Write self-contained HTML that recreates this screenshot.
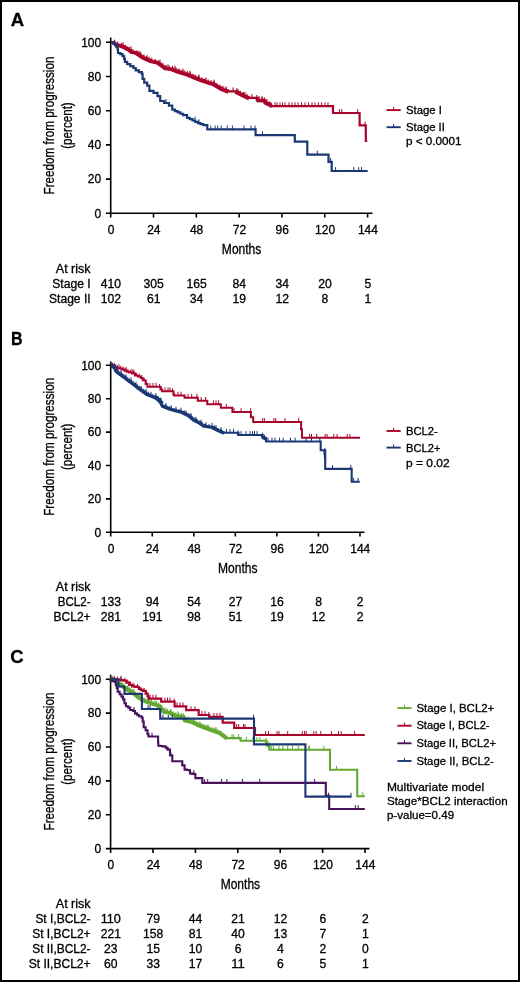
<!DOCTYPE html><html><head><meta charset="utf-8"><style>html,body{margin:0;padding:0;background:#fff;}body{width:520px;height:982px;overflow:hidden;}svg{display:block;will-change:transform;font-family:"Liberation Sans",sans-serif;}text{fill:#000;stroke:#000;stroke-width:0.3px;}</style></head><body>
<svg width="520" height="982" viewBox="0 0 520 982">
<rect x="1" y="1" width="518" height="980" fill="#fff" stroke="#000" stroke-width="2"/>
<text x="10.7" y="25.6" font-size="18.5" text-anchor="start" font-weight="bold" textLength="13.4" lengthAdjust="spacingAndGlyphs">A</text>
<text x="11" y="344.7" font-size="18.5" text-anchor="start" font-weight="bold" textLength="11.6" lengthAdjust="spacingAndGlyphs">B</text>
<text x="10.2" y="663.4" font-size="18.5" text-anchor="start" font-weight="bold">C</text>
<path d="M110.7 37.4V213.3H372.5" fill="none" stroke="#000" stroke-width="1.6" stroke-linejoin="miter"/>
<text x="101.2" y="217.6" font-size="12" text-anchor="end" font-weight="normal">0</text>
<text x="101.2" y="183.4" font-size="12" text-anchor="end" font-weight="normal">20</text>
<text x="101.2" y="149.2" font-size="12" text-anchor="end" font-weight="normal">40</text>
<text x="101.2" y="115" font-size="12" text-anchor="end" font-weight="normal">60</text>
<text x="101.2" y="80.8" font-size="12" text-anchor="end" font-weight="normal">80</text>
<text x="101.2" y="46.6" font-size="12" text-anchor="end" font-weight="normal">100</text>
<text x="111" y="233.5" font-size="12" text-anchor="middle" font-weight="normal">0</text>
<text x="153.82" y="233.5" font-size="12" text-anchor="middle" font-weight="normal">24</text>
<text x="196.63" y="233.5" font-size="12" text-anchor="middle" font-weight="normal">48</text>
<text x="239.45" y="233.5" font-size="12" text-anchor="middle" font-weight="normal">72</text>
<text x="282.26" y="233.5" font-size="12" text-anchor="middle" font-weight="normal">96</text>
<text x="325.08" y="233.5" font-size="12" text-anchor="middle" font-weight="normal">120</text>
<text x="367.9" y="233.5" font-size="12" text-anchor="middle" font-weight="normal">144</text>
<path d="M105.9 213.3H110.7M105.9 179.1H110.7M105.9 144.9H110.7M105.9 110.7H110.7M105.9 76.5H110.7M105.9 42.3H110.7M110.7 213.3V217.6M153.52 213.3V217.6M196.33 213.3V217.6M239.15 213.3V217.6M281.96 213.3V217.6M324.78 213.3V217.6M367.6 213.3V217.6" fill="none" stroke="#000" stroke-width="1.6"/>
<text x="241.6" y="253.5" font-size="14.5" text-anchor="middle" font-weight="normal" textLength="39.5" lengthAdjust="spacingAndGlyphs">Months</text>
<g transform="translate(54 125.5) rotate(-90)">
<text x="0" y="0" font-size="15" text-anchor="middle" textLength="138" lengthAdjust="spacingAndGlyphs">Freedom from progression</text>
<text x="0" y="18" font-size="15" text-anchor="middle" textLength="46.5" lengthAdjust="spacingAndGlyphs">(percent)</text>
</g>
<path d="M110.7 42.3H114.2V43.6H115.7V44.4H117.6V44.8H119.5V45.2H121.45V45.95H123.4V46.7H125.3V47.65H127.2V48.6H129.15V50.1H131.1V51.6H133V51.8H134.9V52H136.85V53.35H138.8V54.7H140.7V56H142.6V57.3H144.4V58.1H146.2V58.9H148V59.7H150V60.6H152.3V61.13H154.6V61.67H156.9V62.2H158.65V63.4H160.4V64.6H162.55V66.25H164.7V67.9H166.73V68.17H168.77V68.43H170.8V68.7H173.1V69.57H175.4V70.43H177.7V71.3H179.85V71.95H182V72.6H184.15V73.25H186.3V73.9H188.42V74.8H190.54V75.7H192.66V76.6H194.78V77.5H196.9V78.4H199.2V79.27H201.5V80.13H203.8V81H205.98V81.65H208.15V82.3H210.32V82.95H212.5V83.6H214.68V84.88H216.85V86.15H219.02V87.42H221.2V88.7H223.5V89.57H225.8V90.43H228.1V91.3H235H237.3V92.47H239.6V93.63H241.9V94.8H244.17V95.83H246.43V96.87H248.7V97.9H256.2H257.3V99.8H259.43V99.87H261.57V99.93H263.7V100H264.8V102.3H266.73V103.2H268.67V104.1H270.6V105H271.2V106.2H333V113H359.6V125.4H365.8V140.8H367.2" fill="none" stroke="#a8042c" stroke-width="2.2" stroke-linejoin="miter" stroke-linecap="butt"/>
<path d="M114.2 44.9L115.7 45.7L119.5 46.5L123.4 48L127.2 49.9L131.1 52.9L134.9 53.3L138.8 56L142.6 58.6L148 61L150 61.9L156.9 63.5L160.4 65.9L164.7 69.2L170.8 70L177.7 72.6L186.3 75.2L196.9 79.7L203.8 82.3L212.5 84.9L221.2 90L228.1 92.6M235 92.6L241.9 96.1L248.7 99.2M256.2 99.2L257.3 101.1L263.7 101.3L264.8 103.6L270.6 106.3L271.2 107.5" fill="none" stroke="#a8042c" stroke-width="2.2" stroke-linejoin="round"/>
<path d="M114.5 43.6V39.7M123 45.95V42.05M131 50.1V46.2M139 54.7V50.8M147 58.9V55M160 63.4V59.5M168 68.17V64.27M175 69.57V65.67M183 72.6V68.7M190 74.8V70.9M199 78.4V74.5M206 81.65V77.75M214 83.6V79.7M226 90.43V86.53M233 91.3V87.4M238 92.47V88.57M245 95.83V91.93M252 97.9V94M259 99.8V95.9M262 99.93V96.03M267 103.2V99.3M275 106.2V102.3M277 106.2V102.3M280 106.2V102.3M282.5 106.2V102.3M285 106.2V102.3M289 106.2V102.3M292 106.2V102.3M295 106.2V102.3M298 106.2V102.3M301.5 106.2V102.3M305 106.2V102.3M308.5 106.2V102.3M312 106.2V102.3M315 106.2V102.3M318.5 106.2V102.3M321.5 106.2V102.3M325 106.2V102.3M328 106.2V102.3M339.4 113V109.1M341.8 113V109.1M357.7 113V109.1M365 125.4V121.5M114.95 43.6V40.7M117.6 44.4V41.5M121.45 45.95V43.05M125.3 47.65V44.75M129.15 50.1V47.2M133 51.8V48.9M136.85 53.35V50.45M140.7 54.7V51.8M143.95 57.3V54.4M146.65 58.9V56M149 59.7V56.8M151.72 60.6V57.7M155.18 61.67V58.77M158.65 63.4V60.5M162.55 66.25V63.35M166.22 67.9V65M169.28 68.43V65.53M172.53 68.7V65.8M175.97 70.43V67.53M179.13 71.3V68.4M182 72.6V69.7M184.87 73.25V70.35M187.62 73.9V71M190.28 74.8V71.9M192.93 76.6V73.7M195.58 77.5V74.6M198.62 78.4V75.5M202.08 80.13V77.23M205.25 81V78.1M208.15 82.3V79.4M211.05 82.95V80.05M213.95 83.6V80.7M216.85 86.15V83.25M219.75 87.42V84.53M222.92 88.7V85.8M226.38 90.43V87.53M236.72 91.3V88.4M240.18 93.63V90.73M243.6 94.8V91.9M247 96.87V93.97M256.75 97.9V95M258.9 99.8V96.9M262.1 99.93V97.03M264.25 100V97.1M266.25 102.3V99.4M269.15 104.1V101.2M270.9 105V102.1" fill="none" stroke="#a8042c" stroke-width="1"/>
<path d="M110.7 42.3H111.1H113.4V43.8H115.7V44.9H116.5V47.2H117.6V49.5H118V53H120.3V54.2H122.6V56.1H124.2V59.2H124.9V61.8H127.2V64.2H130.3V66.1H133.4V68H135.7V70.3H138.8V72.2H141.8V73.8H142.6V78.8H144.2V82.6H147.2V85.7H149.4V90.9H153.5V92.9H157.5V96.2H160.2V101H164.2V103H168.9V105.7H172.3V109.7H175V111.05H177.7V112.4H180.4V113.75H183.1V115.1H187.1V117.8H189.8V119.15H192.5V120.5H195.2V121.85H197.9V123.2H200.6V124.2H203.3V125.2H207.3V129.4H255.6V135.2H294.8V141.7H307.3V154.6H328.5V161.9H331.7V171H367.6" fill="none" stroke="#1b3874" stroke-width="2.2" stroke-linejoin="miter" stroke-linecap="butt"/>
<path d="M166 103V99.1M195 120.5V116.6M199 123.2V119.3M210.8 129.4V125.5M215.1 129.4V125.5M217.7 129.4V125.5M221.2 129.4V125.5M227.2 129.4V125.5M232.4 129.4V125.5M244 129.4V125.5M251 129.4V125.5M255 129.4V125.5M262.5 135.2V131.3M317.3 154.6V150.7M330.6 161.9V158M335.6 171V167.1M353.8 171V167.1M358.7 171V167.1M361.5 171V167.1" fill="none" stroke="#1b3874" stroke-width="1"/>
<path d="M386.5 110.1H400.7" fill="none" stroke="#a8042c" stroke-width="1.9"/>
<path d="M393.6 110.1V106.9" fill="none" stroke="#a8042c" stroke-width="1"/>
<path d="M386.5 127.2H400.7" fill="none" stroke="#1b3874" stroke-width="1.9"/>
<path d="M393.6 127.2V124" fill="none" stroke="#1b3874" stroke-width="1"/>
<text x="406" y="113.8" font-size="11.3" text-anchor="start" font-weight="normal" textLength="35.8" lengthAdjust="spacingAndGlyphs">Stage I</text>
<text x="406" y="130.9" font-size="11.3" text-anchor="start" font-weight="normal" textLength="38.8" lengthAdjust="spacingAndGlyphs">Stage II</text>
<text x="406" y="145.4" font-size="11.3" text-anchor="start" font-weight="normal" textLength="55.6" lengthAdjust="spacingAndGlyphs">p &lt; 0.0001</text>
<text x="90.6" y="272.7" font-size="12" text-anchor="end" font-weight="normal" textLength="34.8" lengthAdjust="spacingAndGlyphs">At risk</text>
<text x="90.6" y="287.65" font-size="12" text-anchor="end" font-weight="normal" textLength="38.3" lengthAdjust="spacingAndGlyphs">Stage I</text>
<text x="110.9" y="287.65" font-size="12" text-anchor="middle" font-weight="normal" textLength="20.25" lengthAdjust="spacingAndGlyphs">410</text>
<text x="153.72" y="287.65" font-size="12" text-anchor="middle" font-weight="normal" textLength="20.25" lengthAdjust="spacingAndGlyphs">305</text>
<text x="196.53" y="287.65" font-size="12" text-anchor="middle" font-weight="normal" textLength="20.25" lengthAdjust="spacingAndGlyphs">165</text>
<text x="239.35" y="287.65" font-size="12" text-anchor="middle" font-weight="normal" textLength="13.5" lengthAdjust="spacingAndGlyphs">84</text>
<text x="282.16" y="287.65" font-size="12" text-anchor="middle" font-weight="normal" textLength="13.5" lengthAdjust="spacingAndGlyphs">34</text>
<text x="324.98" y="287.65" font-size="12" text-anchor="middle" font-weight="normal" textLength="13.5" lengthAdjust="spacingAndGlyphs">20</text>
<text x="367.8" y="287.65" font-size="12" text-anchor="middle" font-weight="normal" textLength="6.75" lengthAdjust="spacingAndGlyphs">5</text>
<text x="90.6" y="302.6" font-size="12" text-anchor="end" font-weight="normal" textLength="41.5" lengthAdjust="spacingAndGlyphs">Stage II</text>
<text x="110.9" y="302.6" font-size="12" text-anchor="middle" font-weight="normal" textLength="20.25" lengthAdjust="spacingAndGlyphs">102</text>
<text x="153.72" y="302.6" font-size="12" text-anchor="middle" font-weight="normal" textLength="13.5" lengthAdjust="spacingAndGlyphs">61</text>
<text x="196.53" y="302.6" font-size="12" text-anchor="middle" font-weight="normal" textLength="13.5" lengthAdjust="spacingAndGlyphs">34</text>
<text x="239.35" y="302.6" font-size="12" text-anchor="middle" font-weight="normal" textLength="13.5" lengthAdjust="spacingAndGlyphs">19</text>
<text x="282.16" y="302.6" font-size="12" text-anchor="middle" font-weight="normal" textLength="13.5" lengthAdjust="spacingAndGlyphs">12</text>
<text x="324.98" y="302.6" font-size="12" text-anchor="middle" font-weight="normal" textLength="6.75" lengthAdjust="spacingAndGlyphs">8</text>
<text x="367.8" y="302.6" font-size="12" text-anchor="middle" font-weight="normal" textLength="6.75" lengthAdjust="spacingAndGlyphs">1</text>
<path d="M110.7 361.5V532.3H364.5" fill="none" stroke="#000" stroke-width="1.6" stroke-linejoin="miter"/>
<text x="101.2" y="536.6" font-size="12" text-anchor="end" font-weight="normal">0</text>
<text x="101.2" y="503.2" font-size="12" text-anchor="end" font-weight="normal">20</text>
<text x="101.2" y="469.8" font-size="12" text-anchor="end" font-weight="normal">40</text>
<text x="101.2" y="436.4" font-size="12" text-anchor="end" font-weight="normal">60</text>
<text x="101.2" y="403" font-size="12" text-anchor="end" font-weight="normal">80</text>
<text x="101.2" y="369.6" font-size="12" text-anchor="end" font-weight="normal">100</text>
<text x="111" y="552.5" font-size="12" text-anchor="middle" font-weight="normal">0</text>
<text x="152.54" y="552.5" font-size="12" text-anchor="middle" font-weight="normal">24</text>
<text x="194.09" y="552.5" font-size="12" text-anchor="middle" font-weight="normal">48</text>
<text x="235.63" y="552.5" font-size="12" text-anchor="middle" font-weight="normal">72</text>
<text x="277.18" y="552.5" font-size="12" text-anchor="middle" font-weight="normal">96</text>
<text x="318.72" y="552.5" font-size="12" text-anchor="middle" font-weight="normal">120</text>
<text x="360.26" y="552.5" font-size="12" text-anchor="middle" font-weight="normal">144</text>
<path d="M105.9 532.3H110.7M105.9 498.9H110.7M105.9 465.5H110.7M105.9 432.1H110.7M105.9 398.7H110.7M105.9 365.3H110.7M110.7 532.3V536.6M152.24 532.3V536.6M193.79 532.3V536.6M235.33 532.3V536.6M276.88 532.3V536.6M318.42 532.3V536.6M359.96 532.3V536.6" fill="none" stroke="#000" stroke-width="1.6"/>
<text x="237.8" y="572.5" font-size="14.5" text-anchor="middle" font-weight="normal" textLength="39.5" lengthAdjust="spacingAndGlyphs">Months</text>
<g transform="translate(54 446.8) rotate(-90)">
<text x="0" y="0" font-size="15" text-anchor="middle" textLength="138" lengthAdjust="spacingAndGlyphs">Freedom from progression</text>
<text x="0" y="18" font-size="15" text-anchor="middle" textLength="46.5" lengthAdjust="spacingAndGlyphs">(percent)</text>
</g>
<path d="M110.7 365.3H113.05V365.55H115.4V365.8V367.8H117.5V368.15H119.6V368.5H122V369.6H124.4V370.7H126.8V371.65H129.2V372.6H132.1V373.5H135V375.5H137.9V376.4H140.8V377.9H142.7V380.3H145.6V384.1H147.4V386.8H158.7H160.4V389.4H162.1V391.2H171.6H173.4V394.6H174.2V395.5H184.6V397.7H197.8V400.8H207.3V404.2H220.8V407.7H232.4V412H250.9V417.2H253.2V421.9H301.1V429.2H302V437.8H360" fill="none" stroke="#a8042c" stroke-width="2.0" stroke-linejoin="miter" stroke-linecap="butt"/>
<path d="M119 368.15V364.35M126 370.7V366.9M132 372.6V368.8M134 373.5V369.7M150 386.8V383M153 386.8V383M156 386.8V383M165 391.2V387.4M168 391.2V387.4M170 391.2V387.4M178 395.5V391.7M181 395.5V391.7M188 397.7V393.9M191.7 397.7V393.9M196.9 397.7V393.9M201.2 400.8V397M205.6 400.8V397M213.4 404.2V400.4M216 404.2V400.4M218.6 404.2V400.4M226.3 407.7V403.9M234.1 412V408.2M241.1 412V408.2M250.6 412V408.2M262.7 421.9V418.1M264.4 421.9V418.1M273.9 421.9V418.1M275.7 421.9V418.1M285 421.9V418.1M298.7 421.9V418.1M309.7 437.8V434M311.5 437.8V434M316.7 437.8V434M325.2 437.8V434M327.1 437.8V434M333.8 437.8V434M337.1 437.8V434M347.2 437.8V434M349.9 437.8V434M111.88 365.3V362.5M114.23 365.55V362.75M117.5 368.15V365.35M120.8 368.5V365.7M123.2 369.6V366.8M125.6 370.7V367.9M128 371.65V368.85M130.65 372.6V369.8M133.55 373.5V370.7M136.45 375.5V372.7M139.35 376.4V373.6M141.75 377.9V375.1M144.15 380.3V377.5M146.5 384.1V381.3M159.55 386.8V384M161.25 389.4V386.6M172.5 391.2V388.4M173.8 394.6V391.8" fill="none" stroke="#a8042c" stroke-width="1"/>
<path d="M110.7 365.3H111H113.8V367.2H115.8V371.1H117.7V372.5H119.6V373.9H121.55V375.35H123.5V376.8H125.4V378.25H127.3V379.7H129.25V381.15H131.2V382.6H133.1V384.05H135V385.5H136.9V386.95H138.8V388.4H140.75V389.8H142.7V391.2H144.6V392.65H146.5V394.1H148.45V394.85H150.4V395.6H152.3V396.3H154.2V397H157.1V398.9H160V401.8H162.1V405.9H164.4V406.77H166.7V407.63H169V408.5H170.73V409.07H172.47V409.63H174.2V410.2H175.95V410.62H177.7V411.05H179.45V411.47H181.2V411.9H183.5V413.07H185.8V414.23H188.1V415.4H189.9V416.87H191.7V418.33H193.5V419.8H195.23V420.67H196.97V421.53H198.7V422.4H200.4V423.57H202.1V424.73H203.8V425.9H205.55V426.1H207.3V426.3H209.05V426.5H210.8V426.7H213.1V427.87H215.4V429.03H217.7V430.2H219.7V431.07H221.7V431.93H223.7V432.8H237.6H238.5V435H261.8H262.7V437.1H264.4V437.95H266.1V438.8V441.5H320.7V450.2H324.3H325.2V458.5V468.9H351.7V481.7H359.8" fill="none" stroke="#1b3874" stroke-width="2.1" stroke-linejoin="miter" stroke-linecap="butt"/>
<path d="M111 366.2L113.8 368.1L115.8 372L119.6 374.8L123.5 377.7L127.3 380.6L131.2 383.5L135 386.4L138.8 389.3L142.7 392.1L146.5 395L150.4 396.5L154.2 397.9L157.1 399.8L160 402.7L162.1 406.8L169 409.4L174.2 411.1L181.2 412.8L188.1 416.3L193.5 420.7L198.7 423.3L203.8 426.8L210.8 427.6L217.7 431.1L223.7 433.7M237.6 433.7L238.5 435.9M261.8 435.9L262.7 438L266.1 439.7M324.3 451.1L325.2 459.4" fill="none" stroke="#1b3874" stroke-width="2.1" stroke-linejoin="round"/>
<path d="M116 371.1V367.25M121 373.9V370.05M126 378.25V374.4M131 381.15V377.3M136 385.5V381.65M141 389.8V385.95M146 392.65V388.8M151 395.6V391.75M156 397V393.15M161 401.8V397.95M166 406.77V402.92M171 409.07V405.22M176 410.62V406.77M181 411.47V407.62M186 414.23V410.38M191 416.87V413.02M196 420.67V416.82M201 423.57V419.72M206 426.1V422.25M212 426.7V422.85M216 429.03V425.18M221 431.07V427.22M226.5 432.8V428.95M230 432.8V428.95M233.5 432.8V428.95M241 435V431.15M246 435V431.15M250 435V431.15M252.5 435V431.15M254.5 435V431.15M257 435V431.15M268 441.5V437.65M272 441.5V437.65M275 441.5V437.65M279.6 441.5V437.65M283.2 441.5V437.65M290.5 441.5V437.65M295.1 441.5V437.65M306.1 441.5V437.65M311.5 441.5V437.65M319.8 441.5V437.65M332.5 468.9V465.05M350.8 468.9V465.05M353.6 481.7V477.85M358.1 481.7V477.85M112.4 365.3V362.95M114.8 367.2V364.85M117.7 371.1V368.75M121.55 375.35V373M125.4 378.25V375.9M129.25 381.15V378.8M133.1 384.05V381.7M136.9 386.95V384.6M140.75 389.8V387.45M144.6 392.65V390.3M148.45 394.1V391.75M152.3 396.3V393.95M155.65 397V394.65M158.55 398.9V396.55M161.05 401.8V399.45M165.55 406.77V404.42M171.6 409.07V406.72M175.95 410.62V408.27M179.45 411.47V409.12M184.65 413.07V410.72M190.8 416.87V414.52M196.1 420.67V418.32M201.25 423.57V421.22M205.55 426.1V423.75M209.05 426.5V424.15M214.25 427.87V425.52M220.7 431.07V428.72M238.05 432.8V430.45M262.25 435V432.65M264.4 437.1V434.75M324.75 450.2V447.85" fill="none" stroke="#1b3874" stroke-width="1"/>
<path d="M386.5 431H400.7" fill="none" stroke="#a8042c" stroke-width="1.9"/>
<path d="M393.6 431V427.8" fill="none" stroke="#a8042c" stroke-width="1"/>
<path d="M386.5 447.6H400.7" fill="none" stroke="#1b3874" stroke-width="1.9"/>
<path d="M393.6 447.6V444.4" fill="none" stroke="#1b3874" stroke-width="1"/>
<text x="406" y="434.8" font-size="11.3" text-anchor="start" font-weight="normal" textLength="31.8" lengthAdjust="spacingAndGlyphs">BCL2-</text>
<text x="406" y="451.7" font-size="11.3" text-anchor="start" font-weight="normal" textLength="34.4" lengthAdjust="spacingAndGlyphs">BCL2+</text>
<text x="406" y="467" font-size="11.3" text-anchor="start" font-weight="normal" textLength="43.7" lengthAdjust="spacingAndGlyphs">p = 0.02</text>
<text x="90.6" y="591.4" font-size="12" text-anchor="end" font-weight="normal" textLength="34.8" lengthAdjust="spacingAndGlyphs">At risk</text>
<text x="90.6" y="606.35" font-size="12" text-anchor="end" font-weight="normal" textLength="32.9" lengthAdjust="spacingAndGlyphs">BCL2-</text>
<text x="110.9" y="606.35" font-size="12" text-anchor="middle" font-weight="normal" textLength="20.25" lengthAdjust="spacingAndGlyphs">133</text>
<text x="152.44" y="606.35" font-size="12" text-anchor="middle" font-weight="normal" textLength="13.5" lengthAdjust="spacingAndGlyphs">94</text>
<text x="193.99" y="606.35" font-size="12" text-anchor="middle" font-weight="normal" textLength="13.5" lengthAdjust="spacingAndGlyphs">54</text>
<text x="235.53" y="606.35" font-size="12" text-anchor="middle" font-weight="normal" textLength="13.5" lengthAdjust="spacingAndGlyphs">27</text>
<text x="277.08" y="606.35" font-size="12" text-anchor="middle" font-weight="normal" textLength="13.5" lengthAdjust="spacingAndGlyphs">16</text>
<text x="318.62" y="606.35" font-size="12" text-anchor="middle" font-weight="normal" textLength="6.75" lengthAdjust="spacingAndGlyphs">8</text>
<text x="360.16" y="606.35" font-size="12" text-anchor="middle" font-weight="normal" textLength="6.75" lengthAdjust="spacingAndGlyphs">2</text>
<text x="90.6" y="621.3" font-size="12" text-anchor="end" font-weight="normal" textLength="37.1" lengthAdjust="spacingAndGlyphs">BCL2+</text>
<text x="110.9" y="621.3" font-size="12" text-anchor="middle" font-weight="normal" textLength="20.25" lengthAdjust="spacingAndGlyphs">281</text>
<text x="152.44" y="621.3" font-size="12" text-anchor="middle" font-weight="normal" textLength="20.25" lengthAdjust="spacingAndGlyphs">191</text>
<text x="193.99" y="621.3" font-size="12" text-anchor="middle" font-weight="normal" textLength="13.5" lengthAdjust="spacingAndGlyphs">98</text>
<text x="235.53" y="621.3" font-size="12" text-anchor="middle" font-weight="normal" textLength="13.5" lengthAdjust="spacingAndGlyphs">51</text>
<text x="277.08" y="621.3" font-size="12" text-anchor="middle" font-weight="normal" textLength="13.5" lengthAdjust="spacingAndGlyphs">19</text>
<text x="318.62" y="621.3" font-size="12" text-anchor="middle" font-weight="normal" textLength="13.5" lengthAdjust="spacingAndGlyphs">12</text>
<text x="360.16" y="621.3" font-size="12" text-anchor="middle" font-weight="normal" textLength="6.75" lengthAdjust="spacingAndGlyphs">2</text>
<path d="M110.6 674.7V848.6H369.5" fill="none" stroke="#000" stroke-width="1.6" stroke-linejoin="miter"/>
<text x="101.2" y="852.9" font-size="12" text-anchor="end" font-weight="normal">0</text>
<text x="101.2" y="819.04" font-size="12" text-anchor="end" font-weight="normal">20</text>
<text x="101.2" y="785.18" font-size="12" text-anchor="end" font-weight="normal">40</text>
<text x="101.2" y="751.32" font-size="12" text-anchor="end" font-weight="normal">60</text>
<text x="101.2" y="717.46" font-size="12" text-anchor="end" font-weight="normal">80</text>
<text x="101.2" y="683.6" font-size="12" text-anchor="end" font-weight="normal">100</text>
<text x="110.9" y="868.8" font-size="12" text-anchor="middle" font-weight="normal">0</text>
<text x="153.31" y="868.8" font-size="12" text-anchor="middle" font-weight="normal">24</text>
<text x="195.72" y="868.8" font-size="12" text-anchor="middle" font-weight="normal">48</text>
<text x="238.12" y="868.8" font-size="12" text-anchor="middle" font-weight="normal">72</text>
<text x="280.53" y="868.8" font-size="12" text-anchor="middle" font-weight="normal">96</text>
<text x="322.94" y="868.8" font-size="12" text-anchor="middle" font-weight="normal">120</text>
<text x="365.35" y="868.8" font-size="12" text-anchor="middle" font-weight="normal">144</text>
<path d="M105.8 848.6H110.6M105.8 814.74H110.6M105.8 780.88H110.6M105.8 747.02H110.6M105.8 713.16H110.6M105.8 679.3H110.6M110.6 848.6V852.9M153.01 848.6V852.9M195.42 848.6V852.9M237.82 848.6V852.9M280.23 848.6V852.9M322.64 848.6V852.9M365.05 848.6V852.9" fill="none" stroke="#000" stroke-width="1.6"/>
<text x="240.4" y="888.8" font-size="14.5" text-anchor="middle" font-weight="normal" textLength="39.5" lengthAdjust="spacingAndGlyphs">Months</text>
<g transform="translate(54 761.5) rotate(-90)">
<text x="0" y="0" font-size="15" text-anchor="middle" textLength="138" lengthAdjust="spacingAndGlyphs">Freedom from progression</text>
<text x="0" y="18" font-size="15" text-anchor="middle" textLength="46.5" lengthAdjust="spacingAndGlyphs">(percent)</text>
</g>
<g transform="translate(0 0.4)">
<path d="M110.6 678.3H111.9V677.9H113.85V679.45H115.8V681H117.7V682.35H119.6V683.7H122.5V685.6H124.4V687.05H126.3V688.5H128.75V689.7H131.2V690.9H133.1V692.35H135V693.8H136.9V695.45H138.8V697.1H140.75V698.3H142.7V699.5H144.6V700.25H146.5V701H148.45V701.7H150.4V702.4H152.8V703.1H155.2V703.8H157.6V704.8H160V705.8H161.55V708.3H163.1V710.8H165V711.1H166.9V711.4H168.8V711.7H170.73V712.67H172.67V713.63H174.6V714.6H176.53V714.85H178.45V715.1H180.38V715.35H182.3V715.6H184.2V719.4H186.12V719.88H188.05V720.35H189.97V720.82H191.9V721.3H193.83V722.27H195.77V723.23H197.7V724.2H199.62V724.93H201.55V725.65H203.47V726.38H205.4V727.1H207.32V727.83H209.25V728.55H211.18V729.27H213.1V730H215V730.63H216.9V731.27H218.8V731.9H220.75V733.35H222.7V734.8H224.6V736.25H226.5V737.7H230H240.6V740.4H265.6H266.5V743.3H269.4V745.2V749.3H330V769.3H357.2V795.8H364.8" fill="none" stroke="#62a832" stroke-width="2.1" stroke-linejoin="miter" stroke-linecap="butt"/>
<path d="M110.6 679.7L111.9 679.3L115.8 682.4L119.6 685.1L122.5 687L126.3 689.9L131.2 692.3L135 695.2L138.8 698.5L142.7 700.9L146.5 702.4L150.4 703.8L155.2 705.2L160 707.2L163.1 712.2L168.8 713.1L174.6 716L182.3 717L184.2 720.8L191.9 722.7L197.7 725.6L205.4 728.5L213.1 731.4L218.8 733.3L222.7 736.2L226.5 739.1M265.6 741.8L266.5 744.7L269.4 746.6" fill="none" stroke="#62a832" stroke-width="2.1" stroke-linejoin="round"/>
<path d="M128 688.5V684.65M134 692.35V688.5M140 697.1V693.25M150 701.7V697.85M156 703.8V699.95M166 711.1V707.25M171 712.67V708.82M178 714.85V711M188 719.88V716.03M194 722.27V718.42M200 724.93V721.08M208 727.83V723.98M216 730.63V726.78M232 737.7V733.85M233.8 737.7V733.85M238.7 737.7V733.85M246.3 740.4V736.55M253 740.4V736.55M256.9 740.4V736.55M259.8 740.4V736.55M271.3 749.3V745.45M273.3 749.3V745.45M279 749.3V745.45M282.9 749.3V745.45M287.7 749.3V745.45M292.5 749.3V745.45M298.3 749.3V745.45M308.8 749.3V745.45M309.5 749.3V745.45M323.8 749.3V745.45M336.5 769.3V765.45M362.8 795.8V791.95M111.25 678.3V675.45M113.85 677.9V675.05M117.7 681V678.15M121.05 683.7V680.85M124.4 687.05V684.2M127.52 688.5V685.65M129.97 689.7V686.85M133.1 692.35V689.5M136.9 695.45V692.6M140.75 698.3V695.45M144.6 700.25V697.4M148.45 701V698.15M151.6 702.4V699.55M154 703.1V700.25M156.4 703.8V700.95M158.8 704.8V701.95M161.55 708.3V705.45M164.53 710.8V707.95M167.38 711.4V708.55M170.25 711.7V708.85M173.15 713.63V710.78M175.88 714.6V711.75M178.45 714.85V712M181.02 715.35V712.5M183.25 715.6V712.75M185.48 719.4V716.55M188.05 720.35V717.5M190.62 720.82V717.98M193.35 721.3V718.45M196.25 723.23V720.38M198.98 724.2V721.35M201.55 725.65V722.8M204.12 726.38V723.53M206.68 727.1V724.25M209.25 728.55V725.7M211.82 729.27V726.43M214.53 730V727.15M217.38 731.27V728.42M220.75 733.35V730.5M224.6 736.25V733.4M266.05 740.4V737.55M267.95 743.3V740.45" fill="none" stroke="#62a832" stroke-width="1"/>
<path d="M110.6 678.8H113.3V678.97H116V679.13H118.7V679.3H121.1V679.8H123.5V680.3H126.3V682.2H129.2V684.6H132.1V686.1H134.05V686.3H136V686.5H138.8V688.5H140.75V689.45H142.7V690.4H145.6V693.3H147.5V695.7H148.5V698.2H161.2V701.2H173.7H174.6V706H186.2V709.8H198.7V714.6H208.3H209.2V716.5H222.7V722.3H234.2V727.6H255V734.6H364.8" fill="none" stroke="#a8042c" stroke-width="2.2" stroke-linejoin="miter" stroke-linecap="butt"/>
<path d="M121 679.3V675.4M130 684.6V680.7M133 686.1V682.2M150 698.2V694.3M153 698.2V694.3M156 698.2V694.3M165 701.2V697.3M167.5 701.2V697.3M170 701.2V697.3M177 706V702.1M180 706V702.1M183 706V702.1M191 709.8V705.9M195 709.8V705.9M202 714.6V710.7M205 714.6V710.7M214 716.5V712.6M217 716.5V712.6M220 716.5V712.6M236.7 727.6V723.7M238.7 727.6V723.7M243.5 727.6V723.7M245 727.6V723.7M265.6 734.6V730.7M268.5 734.6V730.7M277.1 734.6V730.7M279 734.6V730.7M287.7 734.6V730.7M302.3 734.6V730.7M304.6 734.6V730.7M306.2 734.6V730.7M313.8 734.6V730.7M316.2 734.6V730.7M320.8 734.6V730.7M331.5 734.6V730.7M338.5 734.6V730.7M341.2 734.6V730.7M354.6 734.6V730.7M111.95 678.8V675.9M114.65 678.97V676.07M117.35 679.13V676.23M121.1 679.3V676.4M124.9 680.3V677.4M127.75 682.2V679.3M130.65 684.6V681.7M134.05 686.3V683.4M137.4 686.5V683.6M140.75 689.45V686.55M144.15 690.4V687.5M146.55 693.3V690.4M148 695.7V692.8M174.15 701.2V698.3M208.75 714.6V711.7" fill="none" stroke="#a8042c" stroke-width="1"/>
<path d="M110.6 679.3V680.3H112.7V680.8H114.8V681.3H115.8V684.6H116.7V687.5H117.7V691.3H119.6V693.8H121.5V696.2H123V699H124.4V702.9H125.9V705.8H128.3V707.2H130.2V709.6H133.1V710.6H135V713H136.9V714.4H138.8V715.9H141.7V717.3H142.7V721.2H143.7V726.9H145.6V729.8H147.5V733.7H148.5V736.1H157.1H158.1V742.3H158.3V745.4H160.4V745.67H162.5V745.93H164.6V746.2H166.15V747.7H167.7V749.2H170V755H172.3V760.8H180H182.3V765H184.6V769.2H186.9V769.6H189.2V770H190V773.1H192.3V773.45H194.6V773.8H195.4V777.7H202.3V782.5H325.8V795.4H329.2V808.6H364.8" fill="none" stroke="#48125c" stroke-width="2.1" stroke-linejoin="miter" stroke-linecap="butt"/>
<path d="M134 710.6V706.75M152 736.1V732.25M170.8 755V751.15M182.3 765V761.15M193.8 773.45V769.6M204.6 782.5V778.65M207.7 782.5V778.65M221.5 782.5V778.65M226.9 782.5V778.65M242.5 782.5V778.65M259.8 782.5V778.65M314.6 782.5V778.65M355.4 808.6V804.75M358.2 808.6V804.75" fill="none" stroke="#48125c" stroke-width="1"/>
<path d="M110.6 678.9H118.5V686.1H124.5V693.5H141.9V708.6H160.2V718.2H254V744H305.4V796.2H351.5" fill="none" stroke="#1b3874" stroke-width="2.1" stroke-linejoin="miter" stroke-linecap="butt"/>
<path d="M148.1 708.6V704.75M150.1 708.6V704.75M162.9 718.2V714.35M168.3 718.2V714.35M172.3 718.2V714.35M253.5 718.2V714.35M328.5 796.2V792.35M351 796.2V792.35" fill="none" stroke="#1b3874" stroke-width="1"/>
</g>
<path d="M397.4 708.1H411.6" fill="none" stroke="#62a832" stroke-width="1.9"/>
<path d="M404.5 708.1V704.9" fill="none" stroke="#62a832" stroke-width="1"/>
<text x="416.4" y="711.6" font-size="11.4" text-anchor="start" font-weight="normal" textLength="77.9" lengthAdjust="spacingAndGlyphs">Stage I, BCL2+</text>
<path d="M397.4 725.7H411.6" fill="none" stroke="#a8042c" stroke-width="1.9"/>
<path d="M404.5 725.7V722.5" fill="none" stroke="#a8042c" stroke-width="1"/>
<text x="416.4" y="729.2" font-size="11.4" text-anchor="start" font-weight="normal" textLength="73.2" lengthAdjust="spacingAndGlyphs">Stage I, BCL2-</text>
<path d="M397.4 743.3H411.6" fill="none" stroke="#48125c" stroke-width="1.9"/>
<path d="M404.5 743.3V740.1" fill="none" stroke="#48125c" stroke-width="1"/>
<text x="416.4" y="746.8" font-size="11.4" text-anchor="start" font-weight="normal" textLength="79.6" lengthAdjust="spacingAndGlyphs">Stage II, BCL2+</text>
<path d="M397.4 761H411.6" fill="none" stroke="#1b3874" stroke-width="1.9"/>
<path d="M404.5 761V757.8" fill="none" stroke="#1b3874" stroke-width="1"/>
<text x="416.4" y="764.5" font-size="11.4" text-anchor="start" font-weight="normal" textLength="77.5" lengthAdjust="spacingAndGlyphs">Stage II, BCL2-</text>
<text x="386.9" y="791.1" font-size="11.6" text-anchor="start" font-weight="normal" textLength="97.2" lengthAdjust="spacingAndGlyphs">Multivariate model</text>
<text x="386.9" y="805" font-size="11.6" text-anchor="start" font-weight="normal" textLength="120.7" lengthAdjust="spacingAndGlyphs">Stage*BCL2 interaction</text>
<text x="386.9" y="818.6" font-size="11.6" text-anchor="start" font-weight="normal" textLength="67.2" lengthAdjust="spacingAndGlyphs">p-value=0.49</text>
<text x="90.6" y="908" font-size="12" text-anchor="end" font-weight="normal" textLength="34.8" lengthAdjust="spacingAndGlyphs">At risk</text>
<text x="90.6" y="922.95" font-size="12" text-anchor="end" font-weight="normal" textLength="55.2" lengthAdjust="spacingAndGlyphs">St I,BCL2-</text>
<text x="110.8" y="922.95" font-size="12" text-anchor="middle" font-weight="normal" textLength="20.25" lengthAdjust="spacingAndGlyphs">110</text>
<text x="153.21" y="922.95" font-size="12" text-anchor="middle" font-weight="normal" textLength="13.5" lengthAdjust="spacingAndGlyphs">79</text>
<text x="195.62" y="922.95" font-size="12" text-anchor="middle" font-weight="normal" textLength="13.5" lengthAdjust="spacingAndGlyphs">44</text>
<text x="238.02" y="922.95" font-size="12" text-anchor="middle" font-weight="normal" textLength="13.5" lengthAdjust="spacingAndGlyphs">21</text>
<text x="280.43" y="922.95" font-size="12" text-anchor="middle" font-weight="normal" textLength="13.5" lengthAdjust="spacingAndGlyphs">12</text>
<text x="322.84" y="922.95" font-size="12" text-anchor="middle" font-weight="normal" textLength="6.75" lengthAdjust="spacingAndGlyphs">6</text>
<text x="365.25" y="922.95" font-size="12" text-anchor="middle" font-weight="normal" textLength="6.75" lengthAdjust="spacingAndGlyphs">2</text>
<text x="90.6" y="937.9" font-size="12" text-anchor="end" font-weight="normal" textLength="58.4" lengthAdjust="spacingAndGlyphs">St I,BCL2+</text>
<text x="110.8" y="937.9" font-size="12" text-anchor="middle" font-weight="normal" textLength="20.25" lengthAdjust="spacingAndGlyphs">221</text>
<text x="153.21" y="937.9" font-size="12" text-anchor="middle" font-weight="normal" textLength="20.25" lengthAdjust="spacingAndGlyphs">158</text>
<text x="195.62" y="937.9" font-size="12" text-anchor="middle" font-weight="normal" textLength="13.5" lengthAdjust="spacingAndGlyphs">81</text>
<text x="238.02" y="937.9" font-size="12" text-anchor="middle" font-weight="normal" textLength="13.5" lengthAdjust="spacingAndGlyphs">40</text>
<text x="280.43" y="937.9" font-size="12" text-anchor="middle" font-weight="normal" textLength="13.5" lengthAdjust="spacingAndGlyphs">13</text>
<text x="322.84" y="937.9" font-size="12" text-anchor="middle" font-weight="normal" textLength="6.75" lengthAdjust="spacingAndGlyphs">7</text>
<text x="365.25" y="937.9" font-size="12" text-anchor="middle" font-weight="normal" textLength="6.75" lengthAdjust="spacingAndGlyphs">1</text>
<text x="90.6" y="952.85" font-size="12" text-anchor="end" font-weight="normal" textLength="58.4" lengthAdjust="spacingAndGlyphs">St II,BCL2-</text>
<text x="110.8" y="952.85" font-size="12" text-anchor="middle" font-weight="normal" textLength="13.5" lengthAdjust="spacingAndGlyphs">23</text>
<text x="153.21" y="952.85" font-size="12" text-anchor="middle" font-weight="normal" textLength="13.5" lengthAdjust="spacingAndGlyphs">15</text>
<text x="195.62" y="952.85" font-size="12" text-anchor="middle" font-weight="normal" textLength="13.5" lengthAdjust="spacingAndGlyphs">10</text>
<text x="238.02" y="952.85" font-size="12" text-anchor="middle" font-weight="normal" textLength="6.75" lengthAdjust="spacingAndGlyphs">6</text>
<text x="280.43" y="952.85" font-size="12" text-anchor="middle" font-weight="normal" textLength="6.75" lengthAdjust="spacingAndGlyphs">4</text>
<text x="322.84" y="952.85" font-size="12" text-anchor="middle" font-weight="normal" textLength="6.75" lengthAdjust="spacingAndGlyphs">2</text>
<text x="365.25" y="952.85" font-size="12" text-anchor="middle" font-weight="normal" textLength="6.75" lengthAdjust="spacingAndGlyphs">0</text>
<text x="90.6" y="967.8" font-size="12" text-anchor="end" font-weight="normal" textLength="61.9" lengthAdjust="spacingAndGlyphs">St II,BCL2+</text>
<text x="110.8" y="967.8" font-size="12" text-anchor="middle" font-weight="normal" textLength="13.5" lengthAdjust="spacingAndGlyphs">60</text>
<text x="153.21" y="967.8" font-size="12" text-anchor="middle" font-weight="normal" textLength="13.5" lengthAdjust="spacingAndGlyphs">33</text>
<text x="195.62" y="967.8" font-size="12" text-anchor="middle" font-weight="normal" textLength="13.5" lengthAdjust="spacingAndGlyphs">17</text>
<text x="238.02" y="967.8" font-size="12" text-anchor="middle" font-weight="normal" textLength="13.5" lengthAdjust="spacingAndGlyphs">11</text>
<text x="280.43" y="967.8" font-size="12" text-anchor="middle" font-weight="normal" textLength="6.75" lengthAdjust="spacingAndGlyphs">6</text>
<text x="322.84" y="967.8" font-size="12" text-anchor="middle" font-weight="normal" textLength="6.75" lengthAdjust="spacingAndGlyphs">5</text>
<text x="365.25" y="967.8" font-size="12" text-anchor="middle" font-weight="normal" textLength="6.75" lengthAdjust="spacingAndGlyphs">1</text>
</svg></body></html>
